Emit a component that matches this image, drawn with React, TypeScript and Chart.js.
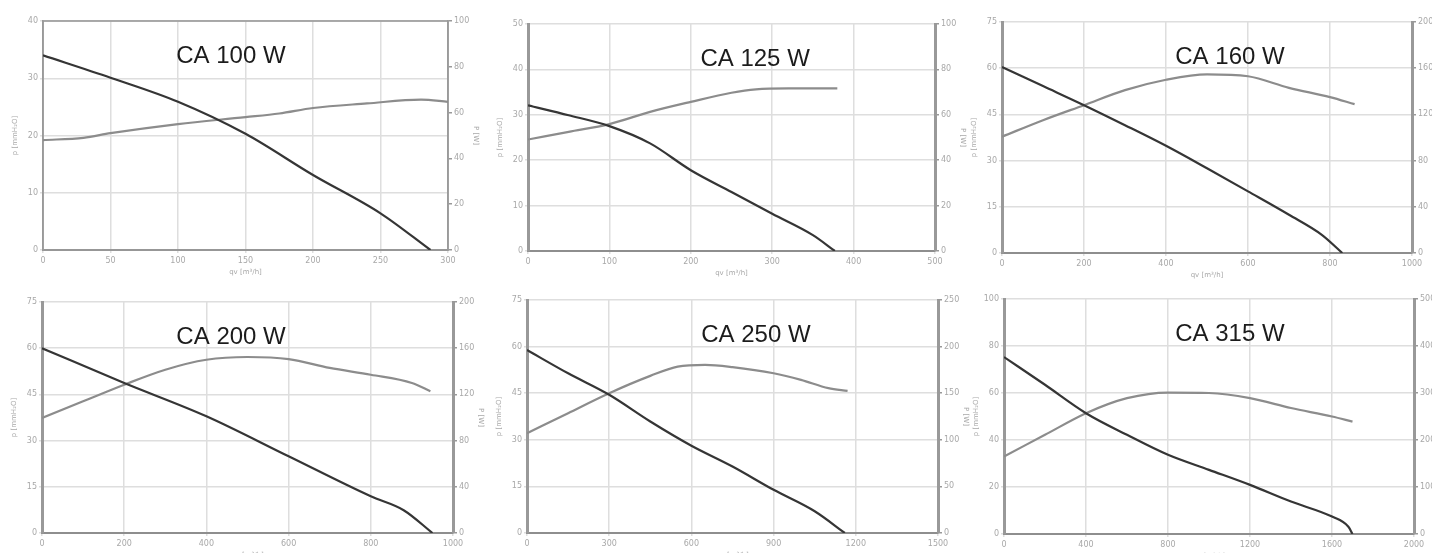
import React, { useEffect, useRef } from 'react';
import { Chart, registerables } from 'chart.js';
Chart.register(...registerables);

// ---- CA 100 W ----
const ca100PressureFlow = [0, 50, 100, 150, 200, 250, 287];
const ca100Pressure = [34, 30.1, 25.9, 20.3, 13.1, 6.4, 0];
const ca100PowerFlow = [0, 30, 50, 100, 150, 175, 200, 240, 280, 300];
const ca100Power = [48, 49, 51, 55, 58, 59.6, 62, 64, 65.7, 64.7];
const ca100XTicks = [0, 50, 100, 150, 200, 250, 300];
const ca100YTicks = [0, 10, 20, 30, 40];
const ca100Y1Ticks = [0, 20, 40, 60, 80, 100];

// ---- CA 125 W ----
const ca125PressureFlow = [0, 50, 100, 150, 200, 250, 300, 350, 377];
const ca125Pressure = [32.1, 29.9, 27.5, 23.7, 17.8, 13, 8.2, 3.5, 0];
const ca125PowerFlow = [0, 50, 100, 150, 200, 250, 280, 320, 380];
const ca125Power = [49.1, 52.5, 55.9, 61.3, 65.7, 69.7, 71.2, 71.6, 71.6];
const ca125XTicks = [0, 100, 200, 300, 400, 500];
const ca125YTicks = [0, 10, 20, 30, 40, 50];
const ca125Y1Ticks = [0, 20, 40, 60, 80, 100];

// ---- CA 160 W ----
const ca160PressureFlow = [0, 100, 200, 300, 400, 500, 600, 700, 780, 830];
const ca160Pressure = [60.4, 54.2, 48, 41.5, 34.8, 27.5, 20, 12.4, 5.9, 0];
const ca160PowerFlow = [0, 100, 200, 300, 400, 500, 600, 700, 800, 860];
const ca160Power = [100.7, 115, 128, 141, 150, 154.7, 153, 143, 135, 128.9];
const ca160XTicks = [0, 200, 400, 600, 800, 1000];
const ca160YTicks = [0, 15, 30, 45, 60, 75];
const ca160Y1Ticks = [0, 40, 80, 120, 160, 200];

// ---- CA 200 W ----
const ca200PressureFlow = [0, 200, 400, 600, 800, 880, 950];
const ca200Pressure = [60, 48.7, 37.9, 24.9, 11.9, 7.4, 0];
const ca200PowerFlow = [0, 100, 200, 300, 400, 500, 600, 700, 800, 900, 945];
const ca200Power = [99.6, 114, 128.4, 141.4, 150, 152.4, 150.6, 142.9, 137, 129.9, 122.7];
const ca200XTicks = [0, 200, 400, 600, 800, 1000];
const ca200YTicks = [0, 15, 30, 45, 60, 75];
const ca200Y1Ticks = [0, 40, 80, 120, 160, 200];

// ---- CA 250 W ----
const ca250PressureFlow = [0, 150, 300, 450, 600, 750, 900, 1050, 1160];
const ca250Pressure = [58.9, 51.4, 44.5, 35.9, 28.1, 21.4, 13.9, 7, 0];
const ca250PowerFlow = [0, 150, 300, 450, 550, 650, 750, 900, 1000, 1100, 1170];
const ca250Power = [107, 128.6, 150, 168.6, 178.6, 180.4, 178, 171.4, 164.3, 155.4, 152.5];
const ca250XTicks = [0, 300, 600, 900, 1200, 1500];
const ca250YTicks = [0, 15, 30, 45, 60, 75];
const ca250Y1Ticks = [0, 50, 100, 150, 200, 250];

// ---- CA 315 W ----
const ca315PressureFlow = [0, 200, 400, 600, 800, 1000, 1200, 1400, 1600, 1680, 1700];
const ca315Pressure = [75.3, 63.5, 51.4, 42.2, 33.7, 27.3, 20.9, 13.8, 7.4, 3.1, 0];
const ca315PowerFlow = [0, 200, 400, 600, 800, 1000, 1200, 1400, 1600, 1700];
const ca315Power = [165, 211, 257, 289, 301, 300, 289, 268, 250, 239];
const ca315XTicks = [0, 400, 800, 1200, 1600, 2000];
const ca315YTicks = [0, 20, 40, 60, 80, 100];
const ca315Y1Ticks = [0, 100, 200, 300, 400, 500];

const chartNames = ['CA 100 W', 'CA 125 W', 'CA 160 W', 'CA 200 W', 'CA 250 W', 'CA 315 W'];

const L = 32, R = 32, T = 12, B = 26;

type Spec = {
  name: string;
  pf: number[]; p: number[]; wf: number[]; w: number[];
  xt: number[]; yt: number[]; y1t: number[];
  area: [number, number, number, number]; // left, top, right, bottom
  frac: number; frame: boolean;
};

const specs: Spec[] = [
  { name: chartNames[0], pf: ca100PressureFlow, p: ca100Pressure, wf: ca100PowerFlow, w: ca100Power, xt: ca100XTicks, yt: ca100YTicks, y1t: ca100Y1Ticks, area: [43, 21, 448, 250], frac: 0.464, frame: true },
  { name: chartNames[1], pf: ca125PressureFlow, p: ca125Pressure, wf: ca125PowerFlow, w: ca125Power, xt: ca125XTicks, yt: ca125YTicks, y1t: ca125Y1Ticks, area: [528, 24, 935, 251], frac: 0.558, frame: false },
  { name: chartNames[2], pf: ca160PressureFlow, p: ca160Pressure, wf: ca160PowerFlow, w: ca160Power, xt: ca160XTicks, yt: ca160YTicks, y1t: ca160Y1Ticks, area: [1002, 22, 1412, 253], frac: 0.556, frame: false },
  { name: chartNames[3], pf: ca200PressureFlow, p: ca200Pressure, wf: ca200PowerFlow, w: ca200Power, xt: ca200XTicks, yt: ca200YTicks, y1t: ca200Y1Ticks, area: [42, 302, 453, 533], frac: 0.46, frame: false },
  { name: chartNames[4], pf: ca250PressureFlow, p: ca250Pressure, wf: ca250PowerFlow, w: ca250Power, xt: ca250XTicks, yt: ca250YTicks, y1t: ca250Y1Ticks, area: [527, 300, 938, 533], frac: 0.557, frame: false },
  { name: chartNames[5], pf: ca315PressureFlow, p: ca315Pressure, wf: ca315PowerFlow, w: ca315Power, xt: ca315XTicks, yt: ca315YTicks, y1t: ca315Y1Ticks, area: [1004, 299, 1414, 534], frac: 0.551, frame: false },
];

const tickFont = { family: '"DejaVu Sans", sans-serif', size: 8 };
const tickColor = '#a8a8a8';
const plain = (v: any) => String(v);

const labelPlugin = {
  id: 'caLabel',
  afterDatasetsDraw(chart: any, _args: any, opts: any) {
    const { ctx, chartArea } = chart;
    ctx.save();
    ctx.font = '24px "Liberation Sans", Arial, sans-serif';
    ctx.fillStyle = '#1c1c1c';
    ctx.textAlign = 'center';
    ctx.textBaseline = 'alphabetic';
    ctx.fillText(opts.text, chartArea.left + opts.frac * (chartArea.right - chartArea.left), chartArea.top + 42);
    ctx.restore();
  },
  beforeDatasetsDraw(chart: any, _args: any, opts: any) {
    if (!opts.frame) return;
    const { ctx, chartArea } = chart;
    ctx.save();
    ctx.strokeStyle = '#9a9a9a';
    ctx.lineWidth = 1.6;
    ctx.strokeRect(chartArea.left, chartArea.top, chartArea.right - chartArea.left, chartArea.bottom - chartArea.top);
    ctx.restore();
  },
};

function FanChart({ s }: { s: Spec }) {
  const ref = useRef<HTMLCanvasElement>(null);
  const [al, at, ar, ab] = s.area;
  const width = ar - al + L + R;
  const height = ab - at + T + B;
  useEffect(() => {
    if (!ref.current) return;
    const axisW = s.frame ? 1.6 : 3;
    const chart = new Chart(ref.current, {
      type: 'line',
      data: {
        datasets: [
          {
            label: 'p',
            data: s.pf.map((x, i) => ({ x, y: s.p[i] })),
            yAxisID: 'y',
            borderColor: '#353535',
            borderWidth: 2.2,
            pointRadius: 0,
            cubicInterpolationMode: 'monotone',
            fill: false,
          },
          {
            label: 'P',
            data: s.wf.map((x, i) => ({ x, y: s.w[i] })),
            yAxisID: 'y1',
            borderColor: '#8c8c8c',
            borderWidth: 2.2,
            pointRadius: 0,
            cubicInterpolationMode: 'monotone',
            fill: false,
          },
        ],
      },
      options: {
        responsive: false,
        animation: false,
        events: [],
        layout: { padding: { top: T, left: 0, right: 0, bottom: 0 } },
        plugins: {
          legend: { display: false },
          tooltip: { enabled: false },
          caLabel: { text: s.name, frac: s.frac, frame: s.frame },
        } as any,
        scales: {
          x: {
            type: 'linear',
            min: s.xt[0],
            max: s.xt[s.xt.length - 1],
            afterBuildTicks: (sc: any) => { sc.ticks = s.xt.map((v) => ({ value: v })); },
            afterFit: (sc: any) => { sc.height = B; },
            grid: { color: '#dedede', lineWidth: 1.5, tickLength: 3 },
            border: { display: true, color: '#8e8e8e', width: 2 },
            ticks: { font: tickFont, color: tickColor, padding: 3, maxRotation: 0, callback: plain },
            title: { display: true, text: 'qv [m³/h]', font: { family: '"DejaVu Sans", sans-serif', size: 7 }, color: tickColor, padding: 0 },
          },
          y: {
            type: 'linear',
            position: 'left',
            min: s.yt[0],
            max: s.yt[s.yt.length - 1],
            afterBuildTicks: (sc: any) => { sc.ticks = s.yt.map((v) => ({ value: v })); },
            afterFit: (sc: any) => { sc.width = L; },
            grid: { color: '#dedede', lineWidth: 1.5, tickLength: 3 },
            border: { display: true, color: '#999999', width: axisW },
            ticks: { font: tickFont, color: tickColor, padding: 2, callback: plain },
            title: { display: true, text: 'p [mmH₂O]', font: { family: '"DejaVu Sans", sans-serif', size: 7 }, color: tickColor, padding: 0 },
          },
          y1: {
            type: 'linear',
            position: 'right',
            min: s.y1t[0],
            max: s.y1t[s.y1t.length - 1],
            afterBuildTicks: (sc: any) => { sc.ticks = s.y1t.map((v) => ({ value: v })); },
            afterFit: (sc: any) => { sc.width = R; },
            grid: { drawOnChartArea: false, color: '#999999', lineWidth: 1.5, tickLength: 4 },
            border: { display: true, color: '#999999', width: axisW },
            ticks: { font: tickFont, color: tickColor, padding: 2, callback: plain },
            title: { display: true, text: 'P [W]', font: { family: '"DejaVu Sans", sans-serif', size: 7 }, color: tickColor, padding: 0 },
          },
        },
      },
      plugins: [labelPlugin],
    } as any);
    return () => chart.destroy();
  }, [s]);
  return (
    <canvas
      ref={ref}
      width={width}
      height={height}
      style={{ position: 'absolute', left: al - L, top: at - T, width, height }}
    />
  );
}

export default function App() {
  return (
    <div style={{ position: 'fixed', left: 0, top: 0, width: 1432, height: 553, overflow: 'hidden', background: '#fff' }}>
      {specs.map((s) => (
        <FanChart key={s.name} s={s} />
      ))}
    </div>
  );
}
